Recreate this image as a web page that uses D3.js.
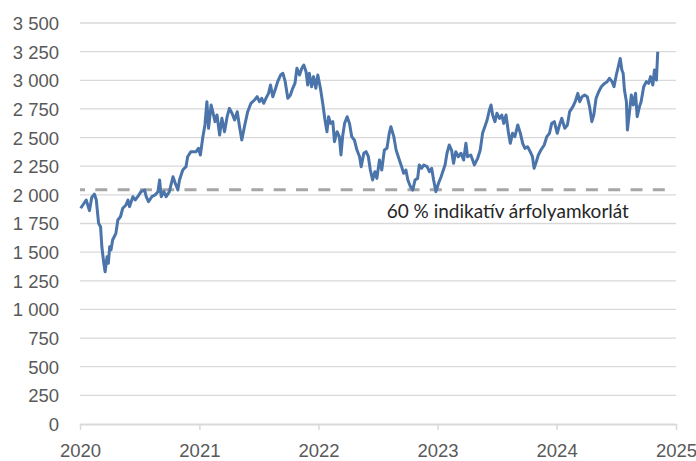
<!DOCTYPE html>
<html lang="hu">
<head>
    <meta charset="UTF-8">
    <title>Árfolyam 2020-2024</title>
    <style>
        body { margin: 0; background: #fff; font-family: Lato, "Open Sans", sans-serif; }
        #chart svg { display: block; }
        .grid line { stroke: #d9d9d9; stroke-width: 1.3px; }
        .axis text { fill: #595959; font-size: 18.5px; }
        .axis path, .axis line { stroke: #d9d9d9; }
        .note { fill: #262626; font-size: 19px; }
    </style>
</head>
<body>
    <div id="chart"></div>

    <script src="https://d3js.org/d3.v7.min.js"></script>
    <script>
        // data
        const dates = [
            '2020-01-03','2020-01-20','2020-01-30','2020-02-06','2020-02-14','2020-02-20','2020-02-27','2020-03-04','2020-03-08','2020-03-14',
            '2020-03-18','2020-03-24','2020-03-28','2020-04-01','2020-04-05','2020-04-10','2020-04-20','2020-04-26','2020-05-04','2020-05-11',
            '2020-05-21','2020-05-27','2020-06-01','2020-06-11','2020-06-18','2020-06-26','2020-07-06','2020-07-17','2020-07-22','2020-07-29',
            '2020-08-08','2020-08-18','2020-08-27','2020-09-01','2020-09-06','2020-09-14','2020-09-21','2020-10-01','2020-10-12','2020-10-19',
            '2020-10-27','2020-11-01','2020-11-11','2020-11-21','2020-11-26','2020-12-06','2020-12-22','2020-12-29',
            '2021-01-04','2021-01-11','2021-01-18','2021-01-24','2021-01-29','2021-02-06','2021-02-11','2021-02-18','2021-02-24','2021-03-04',
            '2021-03-11','2021-03-19','2021-03-27','2021-04-03','2021-04-11','2021-04-19','2021-04-27','2021-05-04','2021-05-11','2021-05-19',
            '2021-05-29','2021-06-08','2021-06-19','2021-06-27','2021-07-04','2021-07-11','2021-07-17','2021-07-24','2021-08-01','2021-08-07',
            '2021-08-14','2021-08-21','2021-08-29','2021-09-07','2021-09-14','2021-09-21','2021-09-29','2021-10-07','2021-10-14','2021-10-21',
            '2021-10-27','2021-11-04','2021-11-11','2021-11-17','2021-11-24','2021-11-29','2021-12-04','2021-12-11','2021-12-17','2021-12-24',
            '2021-12-30',
            '2022-01-07','2022-01-14','2022-01-21','2022-01-27','2022-02-01','2022-02-07','2022-02-14','2022-02-19','2022-02-27','2022-03-06',
            '2022-03-11','2022-03-16','2022-03-22','2022-03-30','2022-04-06','2022-04-13','2022-04-21','2022-04-29','2022-05-07','2022-05-12',
            '2022-05-20','2022-05-27','2022-06-03','2022-06-09','2022-06-16','2022-06-23','2022-06-29','2022-07-07','2022-07-14','2022-07-22',
            '2022-07-30','2022-08-06','2022-08-11','2022-08-20','2022-08-27','2022-09-06','2022-09-13','2022-09-19','2022-09-26','2022-10-02',
            '2022-10-10','2022-10-17','2022-10-24','2022-11-01','2022-11-06','2022-11-13','2022-11-20','2022-11-30','2022-12-07','2022-12-14',
            '2022-12-20','2022-12-27',
            '2023-01-04','2023-01-12','2023-01-17','2023-01-24','2023-01-30','2023-02-06','2023-02-13','2023-02-19','2023-02-26','2023-03-06',
            '2023-03-14','2023-03-22','2023-03-29','2023-04-03','2023-04-13','2023-04-24','2023-05-04','2023-05-12','2023-05-19','2023-05-26',
            '2023-06-02','2023-06-09','2023-06-14','2023-06-19','2023-06-26','2023-07-02','2023-07-10','2023-07-17','2023-07-23','2023-07-30',
            '2023-08-06','2023-08-12','2023-08-19','2023-08-26','2023-09-04','2023-09-12','2023-09-19','2023-09-26','2023-10-04','2023-10-12',
            '2023-10-19','2023-10-24','2023-10-31','2023-11-06','2023-11-14','2023-11-24','2023-12-02','2023-12-10','2023-12-17','2023-12-25',
            '2024-01-03','2024-01-10','2024-01-17','2024-01-26','2024-02-03','2024-02-10','2024-02-20','2024-02-27','2024-03-06','2024-03-12',
            '2024-03-19','2024-03-27','2024-04-04','2024-04-11','2024-04-18','2024-04-24','2024-05-01','2024-05-09','2024-05-17','2024-05-27',
            '2024-06-04','2024-06-11','2024-06-19','2024-06-25','2024-07-02','2024-07-07','2024-07-14','2024-07-19','2024-07-23','2024-07-27',
            '2024-08-02','2024-08-05','2024-08-11','2024-08-17','2024-08-23','2024-08-30','2024-09-04','2024-09-11','2024-09-16','2024-09-24',
            '2024-10-02','2024-10-09','2024-10-15','2024-10-22','2024-10-27','2024-11-02','2024-11-06'
        ];
        const values = [
            1883,1955,1862,1978,2007,1955,1752,1722,1547,1403,
            1329,1460,1403,1547,1519,1606,1664,1781,1809,1883,
            1911,1955,1897,1984,1955,1984,2028,2042,1984,1940,
            1984,1999,2028,2130,1984,2028,1984,2028,2158,2101,
            2042,2130,2217,2246,2333,2377,2377,2406,
            2348,2493,2610,2813,2581,2784,2726,2639,2697,2522,
            2668,2551,2682,2755,2712,2653,2726,2595,2479,2595,
            2726,2799,2828,2857,2813,2843,2799,2843,2886,2959,
            2857,2915,2988,3046,3061,2988,2843,2872,2930,2973,
            3105,3046,3105,3133,3075,2959,3061,2944,3032,2930,
            3046,
            2930,2799,2653,2551,2682,2624,2639,2464,2551,2508,
            2348,2508,2624,2682,2624,2508,2479,2391,2333,2246,
            2363,2377,2333,2217,2130,2202,2144,2304,2217,2391,
            2406,2537,2595,2508,2391,2304,2246,2188,2217,2130,
            2071,2042,2130,2144,2261,2232,2261,2246,2202,2232,
            2130,2028,
            2101,2158,2202,2261,2363,2435,2391,2275,2377,2333,
            2363,2304,2450,2333,2348,2261,2319,2391,2537,2595,
            2653,2741,2784,2697,2639,2712,2668,2697,2624,2697,
            2551,2450,2537,2508,2610,2537,2450,2406,2420,2377,
            2333,2232,2290,2348,2391,2435,2508,2537,2624,2639,
            2537,2610,2668,2581,2610,2726,2770,2813,2886,2813,
            2857,2872,2857,2770,2639,2697,2843,2900,2944,2973,
            2988,3017,2988,2944,3046,3105,3191,3090,3061,2915,
            2813,2566,2712,2872,2784,2886,2682,2770,2813,2944,
            2988,2973,3032,2959,3090,3002,3249
        ];
        const yTicks = [0, 250, 500, 750, 1000, 1250, 1500, 1750, 2000, 2250, 2500, 2750, 3000, 3250, 3500];
        const yearTicks = ['2020-01-01', '2021-01-01', '2022-01-01', '2023-01-01', '2024-01-01', '2025-01-01'];
        const limitValue = 2045;
        const limitRange = ['2020-01-01', '2024-12-06'];
        const limitLabel = '60 % indikatív árfolyamkorlát';
        const labelDate = '2022-07-29';

        const width = 696;
        const height = 461;
        const margin = { top: 23, right: 20, bottom: 37, left: 80 };

        const parse = d3.timeParse('%Y-%m-%d');
        const data = dates.map((d, i) => ({ date: parse(d), value: values[i] }));

        const hu = d3.formatLocale({ decimal: ',', thousands: ' ', grouping: [3], currency: ['', ''] });
        const fmt = hu.format(',d');

        const svg = d3.select('#chart')
            .append('svg')
            .attr('width', width)
            .attr('height', height);

        const x = d3.scaleTime()
            .domain([parse(yearTicks[0]), parse(yearTicks[yearTicks.length - 1])])
            .range([margin.left, width - margin.right]);

        const y = d3.scaleLinear()
            .domain([0, 3500])
            .range([height - margin.bottom, margin.top]);

        // horizontal gridlines
        svg.append('g')
            .attr('class', 'grid')
            .selectAll('line')
            .data(yTicks.slice(1))
            .enter().append('line')
            .attr('x1', x.range()[0])
            .attr('x2', x.range()[1])
            .attr('y1', d => y(d))
            .attr('y2', d => y(d));

        // y axis labels only
        const yAxis = svg.append('g')
            .attr('class', 'axis')
            .attr('transform', `translate(${margin.left - 21},0)`)
            .call(d3.axisLeft(y).tickValues(yTicks).tickFormat(fmt).tickSize(0).tickPadding(0));
        yAxis.select('.domain').remove();
        yAxis.selectAll('text').attr('dy', '0.35em');

        // x axis
        const xAxis = svg.append('g')
            .attr('class', 'axis')
            .attr('transform', `translate(0,${y(0)})`)
            .call(d3.axisBottom(x).tickValues(yearTicks.map(parse)).tickFormat(d3.timeFormat('%Y')).tickSizeInner(6).tickSizeOuter(0).tickPadding(14));
        xAxis.select('.domain').attr('stroke-width', 2);
        xAxis.selectAll('line').attr('stroke-width', 1.5);

        // limit line
        svg.append('line')
            .attr('x1', x(parse(limitRange[0])))
            .attr('x2', x(parse(limitRange[1])))
            .attr('y1', y(limitValue))
            .attr('y2', y(limitValue))
            .attr('stroke', '#a6a6a6')
            .attr('stroke-width', 3)
            .attr('stroke-dasharray', '12,10.3')
            .attr('stroke-dashoffset', 7);

        svg.append('text')
            .attr('class', 'note')
            .attr('x', x(parse(labelDate)))
            .attr('y', y(limitValue) + 28)
            .text(limitLabel);

        const line = d3.line()
            .x(d => x(d.date))
            .y(d => y(d.value));

        svg.append('path')
            .datum(data)
            .attr('fill', 'none')
            .attr('stroke', '#4a74aa')
            .attr('stroke-width', 3)
            .attr('stroke-linejoin', 'round')
            .attr('d', line);
    </script>
</body>
</html>
